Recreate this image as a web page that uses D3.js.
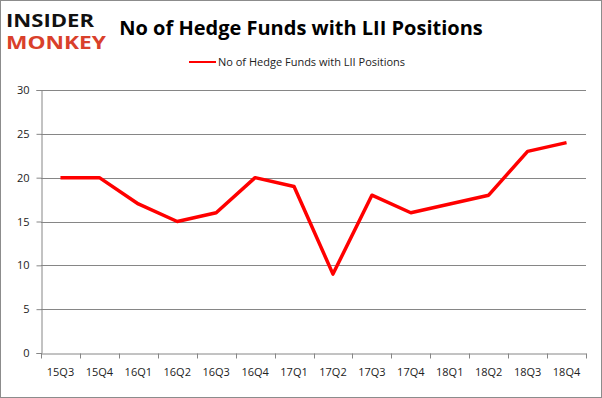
<!DOCTYPE html>
<html lang="en">
<head>
<meta charset="UTF-8">
<title>No of Hedge Funds with LII Positions</title>
<script src="https://d3js.org/d3.v7.min.js"></script>
<style>
  body { margin: 0; background: #fff; }
  text { font-family: "Open Sans", "DejaVu Sans", sans-serif; }
</style>
</head>
<body>
<div id="chart"></div>
<script>
// quarters and hedge fund counts
var quarters = ["15Q3", "15Q4", "16Q1", "16Q2", "16Q3", "16Q4", "17Q1", "17Q2", "17Q3", "17Q4", "18Q1", "18Q2", "18Q3", "18Q4"];
var funds = [20, 20, 17, 15, 16, 20, 19, 9, 18, 16, 17, 18, 23, 24];
var yTicks = [0, 5, 10, 15, 20, 25, 30];
var seriesName = "No of Hedge Funds with LII Positions";

var W = 602, H = 398;
var margin = {top: 90, right: 16, bottom: 45, left: 41};
var width = W - margin.left - margin.right,
    height = H - margin.top - margin.bottom;

var svg = d3.select("#chart").append("svg")
  .attr("width", W)
  .attr("height", H);

// outer frame
svg.append("rect")
  .attr("x", 0.5).attr("y", 0.5)
  .attr("width", W - 1).attr("height", H - 1)
  .attr("fill", "#fff").attr("stroke", "#8c8c8c");

// logo
svg.append("text").attr("x", 6).attr("y", 27)
  .attr("font-family", "DejaVu Sans").attr("font-weight", "bold")
  .attr("font-size", 17).attr("fill", "#111")
  .attr("textLength", 88).attr("lengthAdjust", "spacingAndGlyphs")
  .text("INSIDER");
svg.append("text").attr("x", 6).attr("y", 49)
  .attr("font-family", "DejaVu Sans").attr("font-weight", "bold")
  .attr("font-size", 17).attr("fill", "#d9402b")
  .attr("textLength", 100).attr("lengthAdjust", "spacingAndGlyphs")
  .text("MONKEY");

// title
svg.append("text")
  .attr("x", 301).attr("y", 35)
  .attr("text-anchor", "middle")
  .attr("font-size", 20).attr("font-weight", "bold")
  .attr("fill", "#000")
  .text("No of Hedge Funds with LII Positions");

// legend
svg.append("line")
  .attr("x1", 189).attr("x2", 216)
  .attr("y1", 62).attr("y2", 62)
  .attr("stroke", "#ff0000").attr("stroke-width", 2);
svg.append("text")
  .attr("x", 218).attr("y", 66)
  .attr("font-size", 11).attr("fill", "#222")
  .text(seriesName);

var g = svg.append("g")
  .attr("transform", "translate(" + margin.left + "," + margin.top + ")");

var x = d3.scaleBand().domain(quarters).range([0, width]);
var y = d3.scaleLinear().domain([0, 30]).range([height, 0]);

// gridlines
g.selectAll(".grid").data(yTicks.slice(1)).enter().append("line")
  .attr("x1", 0).attr("x2", width)
  .attr("y1", function(d) { return Math.round(y(d)) + 0.5; })
  .attr("y2", function(d) { return Math.round(y(d)) + 0.5; })
  .attr("stroke", "#868686");

// y axis
var yAxis = g.append("g")
  .attr("transform", "translate(0.5,0)")
  .call(d3.axisLeft(y).tickValues(yTicks).tickSize(5).tickPadding(7));
yAxis.select(".domain").attr("stroke", "#868686");
yAxis.selectAll("line").attr("stroke", "#868686");
yAxis.selectAll("text").attr("font-size", 11).attr("fill", "#222")
  .attr("font-family", "Open Sans, DejaVu Sans, sans-serif");

// x axis
var xAxis = g.append("g")
  .attr("transform", "translate(0," + (Math.round(height) + 0.5) + ")")
  .call(d3.axisBottom(x).tickSize(0).tickPadding(15));
xAxis.select(".domain").attr("stroke", "#868686");
xAxis.selectAll("text").attr("font-size", 11).attr("fill", "#222")
  .attr("font-family", "Open Sans, DejaVu Sans, sans-serif");
xAxis.selectAll(".sep").data(quarters.concat(["end"])).enter().append("line")
  .attr("x1", function(d, i) { return Math.round(i * x.step()) + 0.5; })
  .attr("x2", function(d, i) { return Math.round(i * x.step()) + 0.5; })
  .attr("y1", 0).attr("y2", 5)
  .attr("stroke", "#868686");

// line
var line = d3.line()
  .x(function(d, i) { return x(quarters[i]) + x.bandwidth() / 2; })
  .y(function(d) { return y(d); });

g.append("path")
  .datum(funds)
  .attr("d", line)
  .attr("fill", "none")
  .attr("stroke", "#ff0000")
  .attr("stroke-width", 3.5)
  .attr("stroke-linejoin", "round");
</script>
</body>
</html>
